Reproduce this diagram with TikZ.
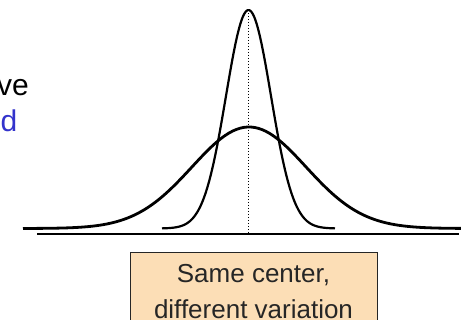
\documentclass[tikz,border=0pt]{standalone}
\usepackage{fontspec}
\setmainfont{Liberation Sans}
\usetikzlibrary{positioning}

\definecolor{peach}{RGB}{252,222,182}
\definecolor{textblue}{RGB}{51,51,204}

\tikzset{
  curve/.style={line width=2.8pt, line join=round, smooth},
  sidetext/.style={inner sep=0pt, anchor=base east, font=\fontsize{30}{36}\selectfont},
}

\begin{document}
\begin{tikzpicture}[x=1pt, y=-1pt]
  \useasboundingbox (0,0) rectangle (461,320);

  % Seitentext (links abgeschnitten)
  \node[sidetext] (top) at (29,95.5) {ve};
  \node[sidetext, textblue] (low) at (17.5,131.5) {d};

  % Achse
  \coordinate (axisL) at (37,234);
  \coordinate (axisR) at (459,234);
  \draw[line width=2pt] (axisL) -- (axisR);

  % breite und schmale Verteilung
  \draw[curve] plot[domain=23:461, samples=120]
    (\x, {228.5 - 101.5*exp(-0.5*((\x-249)/57)^2)});
  \draw[curve, line width=2.2pt] plot[domain=162:335, samples=100]
    (\x, {228.5 - 218.5*exp(-0.5*((\x-248.5)/22.5)^2)});

  % Mittelwert
  \coordinate (peak) at (248.5,10);
  \coordinate (foot) at (248.5,233);
  \draw[line width=1.6pt, dash pattern=on 1.5pt off 1.5pt] (peak) -- (foot);

  % Kasten
  \draw[fill=peach, line width=0.9pt, draw=black!85] (130,252) rectangle (377,340);
  \node[inner sep=0pt, anchor=north, align=center, text=black!85,
        font=\fontsize{26}{36}\selectfont] (note) at (253.5,264)
        {Same center,\\different variation};
\end{tikzpicture}
\end{document}
